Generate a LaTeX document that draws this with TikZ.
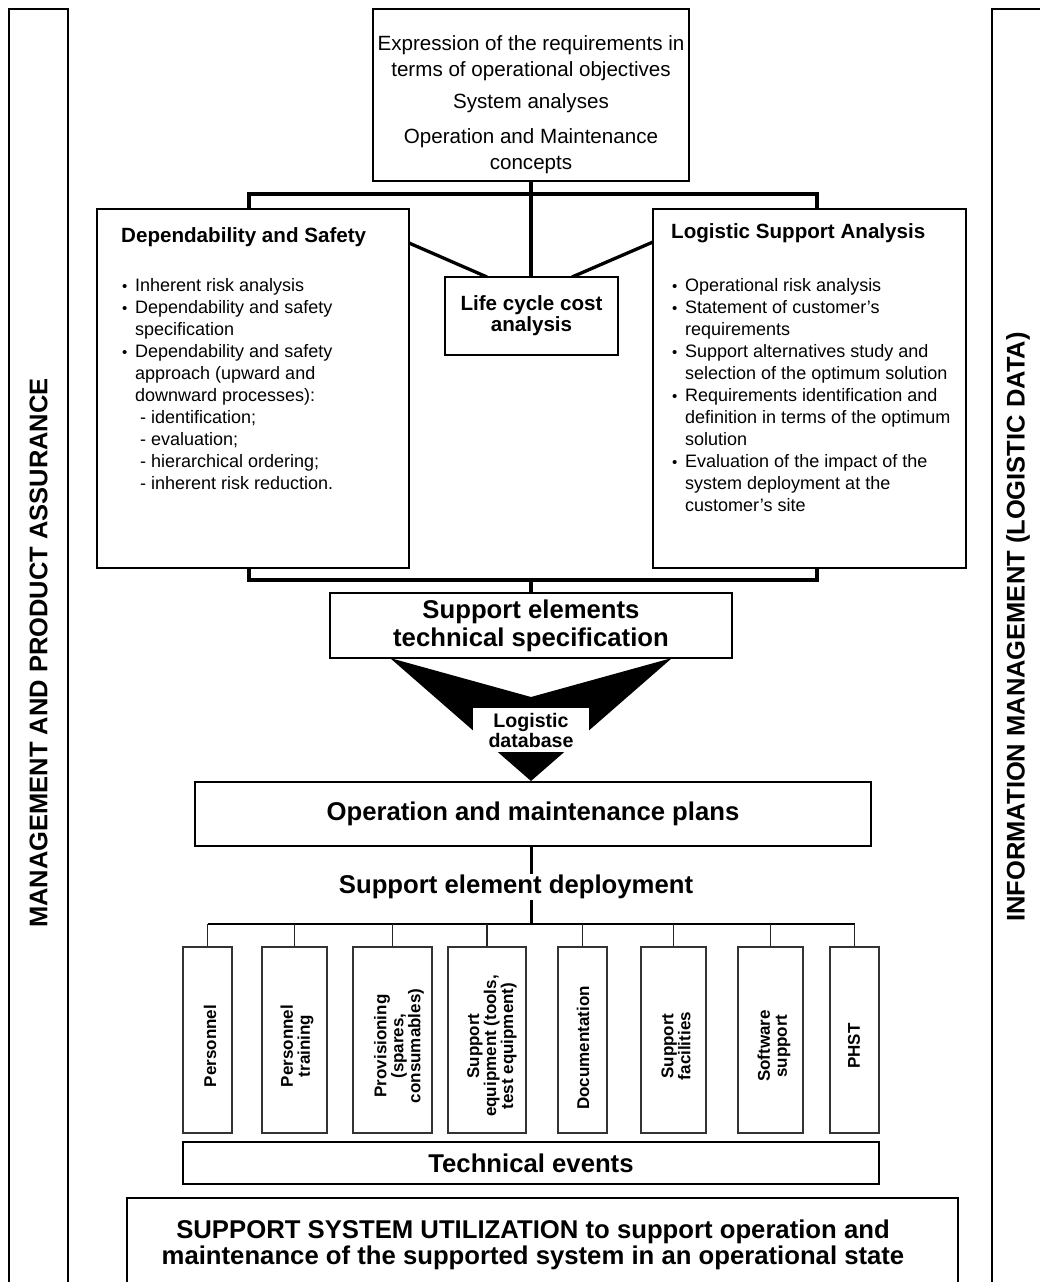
\documentclass[tikz,border=0pt]{standalone}
\usepackage{fontspec}
\setmainfont{Liberation Sans}
\newcommand{\mybul}{\makebox[13pt][l]{\raisebox{0pt}{\fontsize{15}{15}\selectfont •}}}
\newcommand{\myind}{\hspace*{13pt}}
\newcommand{\mydash}{\hspace*{18pt}-\ }
\begin{document}
\begin{tikzpicture}[x=1pt,y=-1pt,
  box/.style={draw, line width=2.6pt, fill=white, inner sep=0pt},
  conn/.style={line width=3.3pt},
  thinline/.style={line width=1.2pt, draw=black!85},
  elem/.style={draw=black!80, line width=1.2pt, minimum height=186pt, inner sep=0pt},
  etext/.style={rotate=90, align=center, inner sep=0pt, font=\fontsize{17}{17}\selectfont\bfseries},
  bodytext/.style={align=left, anchor=north west, inner sep=0pt, font=\fontsize{18}{22}\selectfont},
  ttl/.style={anchor=west, inner sep=0pt, font=\fontsize{20.6}{24}\selectfont\bfseries},
  bigtext/.style={font=\fontsize{25.7}{28}\selectfont\bfseries, align=center},
  sidelabel/.style={rotate=90, inner sep=0pt, font=\fontsize{25.5}{26}\selectfont\bfseries}
]
\useasboundingbox (0,0) rectangle (1040,1282);
\clip (0,0) rectangle (1040,1282);

% side bars
\node[draw, line width=2.5pt, minimum width=59pt, minimum height=1291pt, inner sep=0pt] (lbar) at (38.5,654.5) {};
\node[sidelabel] (llab) at (38.5,653) {MANAGEMENT AND PRODUCT ASSURANCE};
\node[draw, line width=2.5pt, minimum width=68pt, minimum height=1291pt, inner sep=0pt] (rbar) at (1026,654.5) {};
\node[sidelabel] (rlab) at (1018,627) {INFORMATION MANAGEMENT (LOGISTIC DATA)};

% top box
\node[box, minimum width=316pt, minimum height=172pt] (top) at (531,95) {};
\node[align=center, inner sep=0pt, font=\fontsize{20.6}{26}\selectfont] (toptxt) at (531,105)
  {Expression of the requirements in\\terms of operational objectives\\[6pt]System analyses\\[9pt]Operation and Maintenance\\concepts};

% coordinates of junctions
\coordinate (jl) at (249,194);
\coordinate (jr) at (817,194);
\coordinate (jb) at (531,580);

% connectors (drawn first)
\draw[conn] (531,181) -- (531,277);
\draw[conn] (jl |- 0,209) -- (jl) -- (jr) -- (jr |- 0,209);
\draw[conn] (409,243) -- (487,277);
\draw[conn] (653,242) -- (572,277);
\draw[conn] (jl |- 0,568) -- (jl |- jb) -- (jr |- jb) -- (jr |- 0,568);
\draw[conn] (jb) -- (531,593);

% main boxes
\node[box, minimum width=312pt, minimum height=359pt] (ds) at (253,388.5) {};
\node[box, minimum width=313pt, minimum height=359pt] (lsa) at (809.5,388.5) {};
\node[box, minimum width=173pt, minimum height=78pt, align=center, font=\fontsize{20.6}{21}\selectfont\bfseries] (lcc) at (531.5,316) {Life cycle cost\\analysis};

\node[ttl] (dstitle) at (121,237) {Dependability and Safety};
\node[bodytext] (dsbody) at (122,278.5) {\mybul Inherent risk analysis\\
\mybul Dependability and safety\\
\myind specification\\
\mybul Dependability and safety\\
\myind approach (upward and\\
\myind downward processes):\\
\mydash identification;\\
\mydash evaluation;\\
\mydash hierarchical ordering;\\
\mydash inherent risk reduction.};

\node[ttl] (lsatitle) at (671,233) {Logistic Support Analysis};
\node[bodytext] (lsabody) at (672,278.5) {\mybul Operational risk analysis\\
\mybul Statement of customer’s\\
\myind requirements\\
\mybul Support alternatives study and\\
\myind selection of the optimum solution\\
\mybul Requirements identification and\\
\myind definition in terms of the optimum\\
\myind solution\\
\mybul Evaluation of the impact of the\\
\myind system deployment at the\\
\myind customer’s site};

% funnel
\fill (390,658) -- (531,697) -- (672,658) -- (531,781) -- cycle;
\node[box, minimum width=402pt, minimum height=65pt, bigtext] (se) at (531,625.5) {Support elements\\technical specification};
\node[fill=white, minimum width=116pt, minimum height=44pt, inner sep=0pt, align=center, font=\fontsize{19.6}{20}\selectfont\bfseries] (ldb) at (531,730) {Logistic\\database};

% operation and maintenance plans
\node[box, minimum width=676pt, minimum height=64pt, bigtext] (opm) at (533,814) {Operation and maintenance plans};
\coordinate (jd) at (531,924);
\draw[line width=3pt] (jd |- opm.south) -- (jd);
\node[fill=white, inner sep=1pt, bigtext] (sed) at (516,887) {Support element deployment};

% support elements
\node[elem, minimum width=49pt] (e1) at (207.5,1040) {};
\node[elem, minimum width=65pt] (e2) at (294.5,1040) {};
\node[elem, minimum width=79pt] (e3) at (392.5,1040) {};
\node[elem, minimum width=78pt] (e4) at (487,1040) {};
\node[elem, minimum width=49pt] (e5) at (582.5,1040) {};
\node[elem, minimum width=65pt] (e6) at (673.5,1040) {};
\node[elem, minimum width=65pt] (e7) at (770.5,1040) {};
\node[elem, minimum width=49pt] (e8) at (854.5,1040) {};

\node[etext] (t1) at (210,1046) {Personnel};
\node[etext] (t2) at (297,1046) {Personnel\\training};
\node[etext] (t3) at (399,1046) {Provisioning\\(spares,\\consumables)};
\node[etext] (t4) at (492,1046) {Support\\equipment (tools,\\test equipment)};
\node[etext] (t5) at (583,1048) {Documentation};
\node[etext] (t6) at (676,1046) {Support\\facilities};
\node[etext] (t7) at (774,1046) {Software\\support};
\node[etext] (t8) at (854,1046) {PHST};

\draw[line width=1.3pt] (e1.north |- jd) -- (e8.north |- jd);
\foreach \n in {e1,e2,e3,e4,e5,e6,e7,e8}{
  \draw[thinline] (\n.north |- jd) -- (\n.north);
}

% technical events and utilization
\node[box, minimum width=696pt, minimum height=42pt, bigtext] (te) at (531,1163) {Technical events};
\node[box, minimum width=831pt, minimum height=110pt] (ssu) at (542.5,1253) {};
\node[align=center, inner sep=0pt, font=\fontsize{25.7}{26}\selectfont\bfseries] (ssutxt) at (533,1245)
  {SUPPORT SYSTEM UTILIZATION to support operation and\\maintenance of the supported system in an operational state};
\end{tikzpicture}
\end{document}
